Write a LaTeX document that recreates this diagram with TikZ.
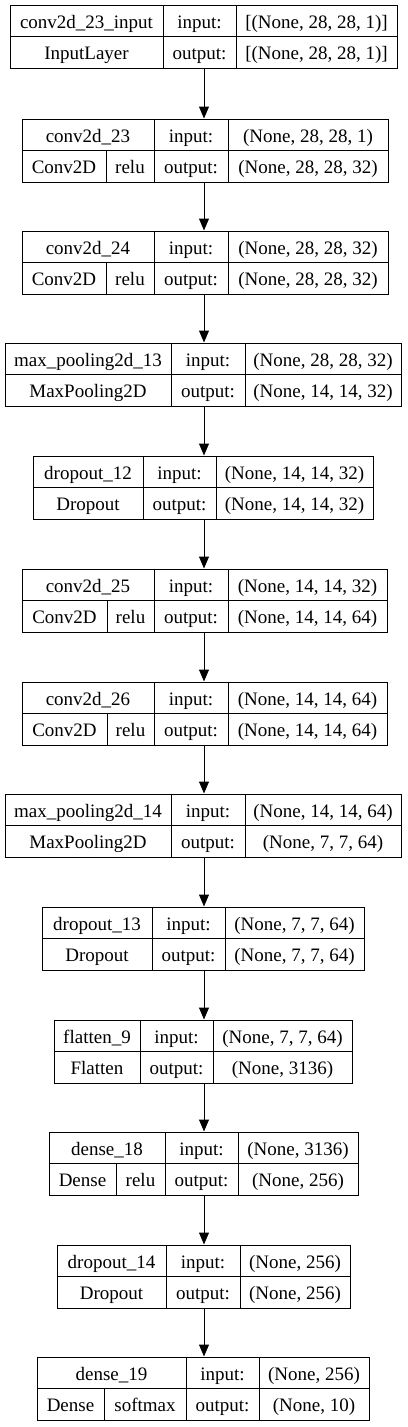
\documentclass[tikz,border=0pt]{standalone}
\usepackage{fontspec}
\setmainfont{Liberation Serif}
\usetikzlibrary{arrows.meta,fit}
\tikzset{
  boxframe/.style={draw=black, line width=1pt, inner sep=0pt},
  divline/.style={draw=black, line width=1pt},
  celltext/.style={inner sep=0pt, text height=13pt, text depth=4pt, font=\fontsize{19}{22}\selectfont},
  flowarrow/.style={draw=black, line width=1pt, -{Triangle[length=12pt,width=10pt]}}
}
% #1 name, #2 top, #3 left, #4 divider1, #5 divider2, #6 right, #7 title, #8 class
\newcommand\layerbox[8]{%
  \coordinate (#1nw) at (#3,#2);
  \coordinate (#1se) at (#6,{#2+63});
  \node[boxframe, fit=(#1nw)(#1se)] (#1) {};
  \draw[divline] (#3,{#2+31.5}) -- (#6,{#2+31.5});
  \draw[divline] (#4,#2) -- (#4,{#2+63});
  \draw[divline] (#5,#2) -- (#5,{#2+63});
  \node[celltext] (#1title) at ({(#3+#4)/2},{#2+18.5}) {#7};
  \node[celltext] (#1class) at ({(#3+#4)/2},{#2+49.5}) {#8};
  \node[celltext] (#1inlbl) at ({(#4+#5)/2},{#2+18.5}) {input:};
  \node[celltext] (#1outlbl) at ({(#4+#5)/2},{#2+49.5}) {output:};
}
% #1 name, #2 top, #3 left, #4 split x, #5 divider1, #6 class, #7 activation
\newcommand\actsplit[7]{%
  \draw[divline] (#4,{#2+31.5}) -- (#4,{#2+63});
  \node[celltext] (#1cls) at ({(#3+#4)/2},{#2+49.5}) {#6};
  \node[celltext] (#1act) at ({(#4+#5)/2},{#2+49.5}) {#7};
}
% #1 name, #2 top, #3 divider2, #4 right, #5 in, #6 out
\newcommand\shapecells[6]{%
  \node[celltext] (#1in) at ({(#3+#4)/2},{#2+18.5}) {#5};
  \node[celltext] (#1out) at ({(#3+#4)/2},{#2+49.5}) {#6};
}
\begin{document}
\begin{tikzpicture}[x=1pt,y=-1pt]
\useasboundingbox (0,0) rectangle (407,1427);
\coordinate (ax) at (204,0);

\layerbox{L1}{5}{10}{163}{236}{397}{conv2d\_23\_input}{InputLayer}
\shapecells{L1}{5}{236}{397}{[(None, 28, 28, 1)]}{[(None, 28, 28, 1)]}

\layerbox{L2}{119}{22}{154}{228}{388}{conv2d\_23}{}
\actsplit{L2}{119}{22}{106}{154}{Conv2D}{relu}
\shapecells{L2}{119}{228}{388}{(None, 28, 28, 1)}{(None, 28, 28, 32)}

\layerbox{L3}{231}{22}{154}{228}{388}{conv2d\_24}{}
\actsplit{L3}{231}{22}{106}{154}{Conv2D}{relu}
\shapecells{L3}{231}{228}{388}{(None, 28, 28, 32)}{(None, 28, 28, 32)}

\layerbox{L4}{343}{5}{171}{245}{401}{max\_pooling2d\_13}{MaxPooling2D}
\shapecells{L4}{343}{245}{401}{(None, 28, 28, 32)}{(None, 14, 14, 32)}

\layerbox{L5}{456}{33}{143}{216}{373}{dropout\_12}{Dropout}
\shapecells{L5}{456}{216}{373}{(None, 14, 14, 32)}{(None, 14, 14, 32)}

\layerbox{L6}{569}{22}{154}{228}{387}{conv2d\_25}{}
\actsplit{L6}{569}{22}{107}{154}{Conv2D}{relu}
\shapecells{L6}{569}{228}{387}{(None, 14, 14, 32)}{(None, 14, 14, 64)}

\layerbox{L7}{682}{22}{154}{228}{387}{conv2d\_26}{}
\actsplit{L7}{682}{22}{107}{154}{Conv2D}{relu}
\shapecells{L7}{682}{228}{387}{(None, 14, 14, 64)}{(None, 14, 14, 64)}

\layerbox{L8}{794}{5}{171}{245}{401}{max\_pooling2d\_14}{MaxPooling2D}
\shapecells{L8}{794}{245}{401}{(None, 14, 14, 64)}{(None, 7, 7, 64)}

\layerbox{L9}{907}{42}{152}{225}{364}{dropout\_13}{Dropout}
\shapecells{L9}{907}{225}{364}{(None, 7, 7, 64)}{(None, 7, 7, 64)}

\layerbox{L10}{1020}{54}{140}{213}{352}{flatten\_9}{Flatten}
\shapecells{L10}{1020}{213}{352}{(None, 7, 7, 64)}{(None, 3136)}

\layerbox{L11}{1132}{49}{165}{238}{358}{dense\_18}{}
\actsplit{L11}{1132}{49}{116}{165}{Dense}{relu}
\shapecells{L11}{1132}{238}{358}{(None, 3136)}{(None, 256)}

\layerbox{L12}{1245}{57}{166}{240}{350}{dropout\_14}{Dropout}
\shapecells{L12}{1245}{240}{350}{(None, 256)}{(None, 256)}

\layerbox{L13}{1357}{37}{186}{259}{369}{dense\_19}{}
\actsplit{L13}{1357}{37}{104}{186}{Dense}{softmax}
\shapecells{L13}{1357}{259}{369}{(None, 256)}{(None, 10)}

\foreach \a/\b in {L1/L2,L2/L3,L3/L4,L4/L5,L5/L6,L6/L7,L7/L8,L8/L9,L9/L10,L10/L11,L11/L12,L12/L13}
  \draw[flowarrow] (\a.south -| ax) -- (\b.north -| ax);
\end{tikzpicture}
\end{document}
